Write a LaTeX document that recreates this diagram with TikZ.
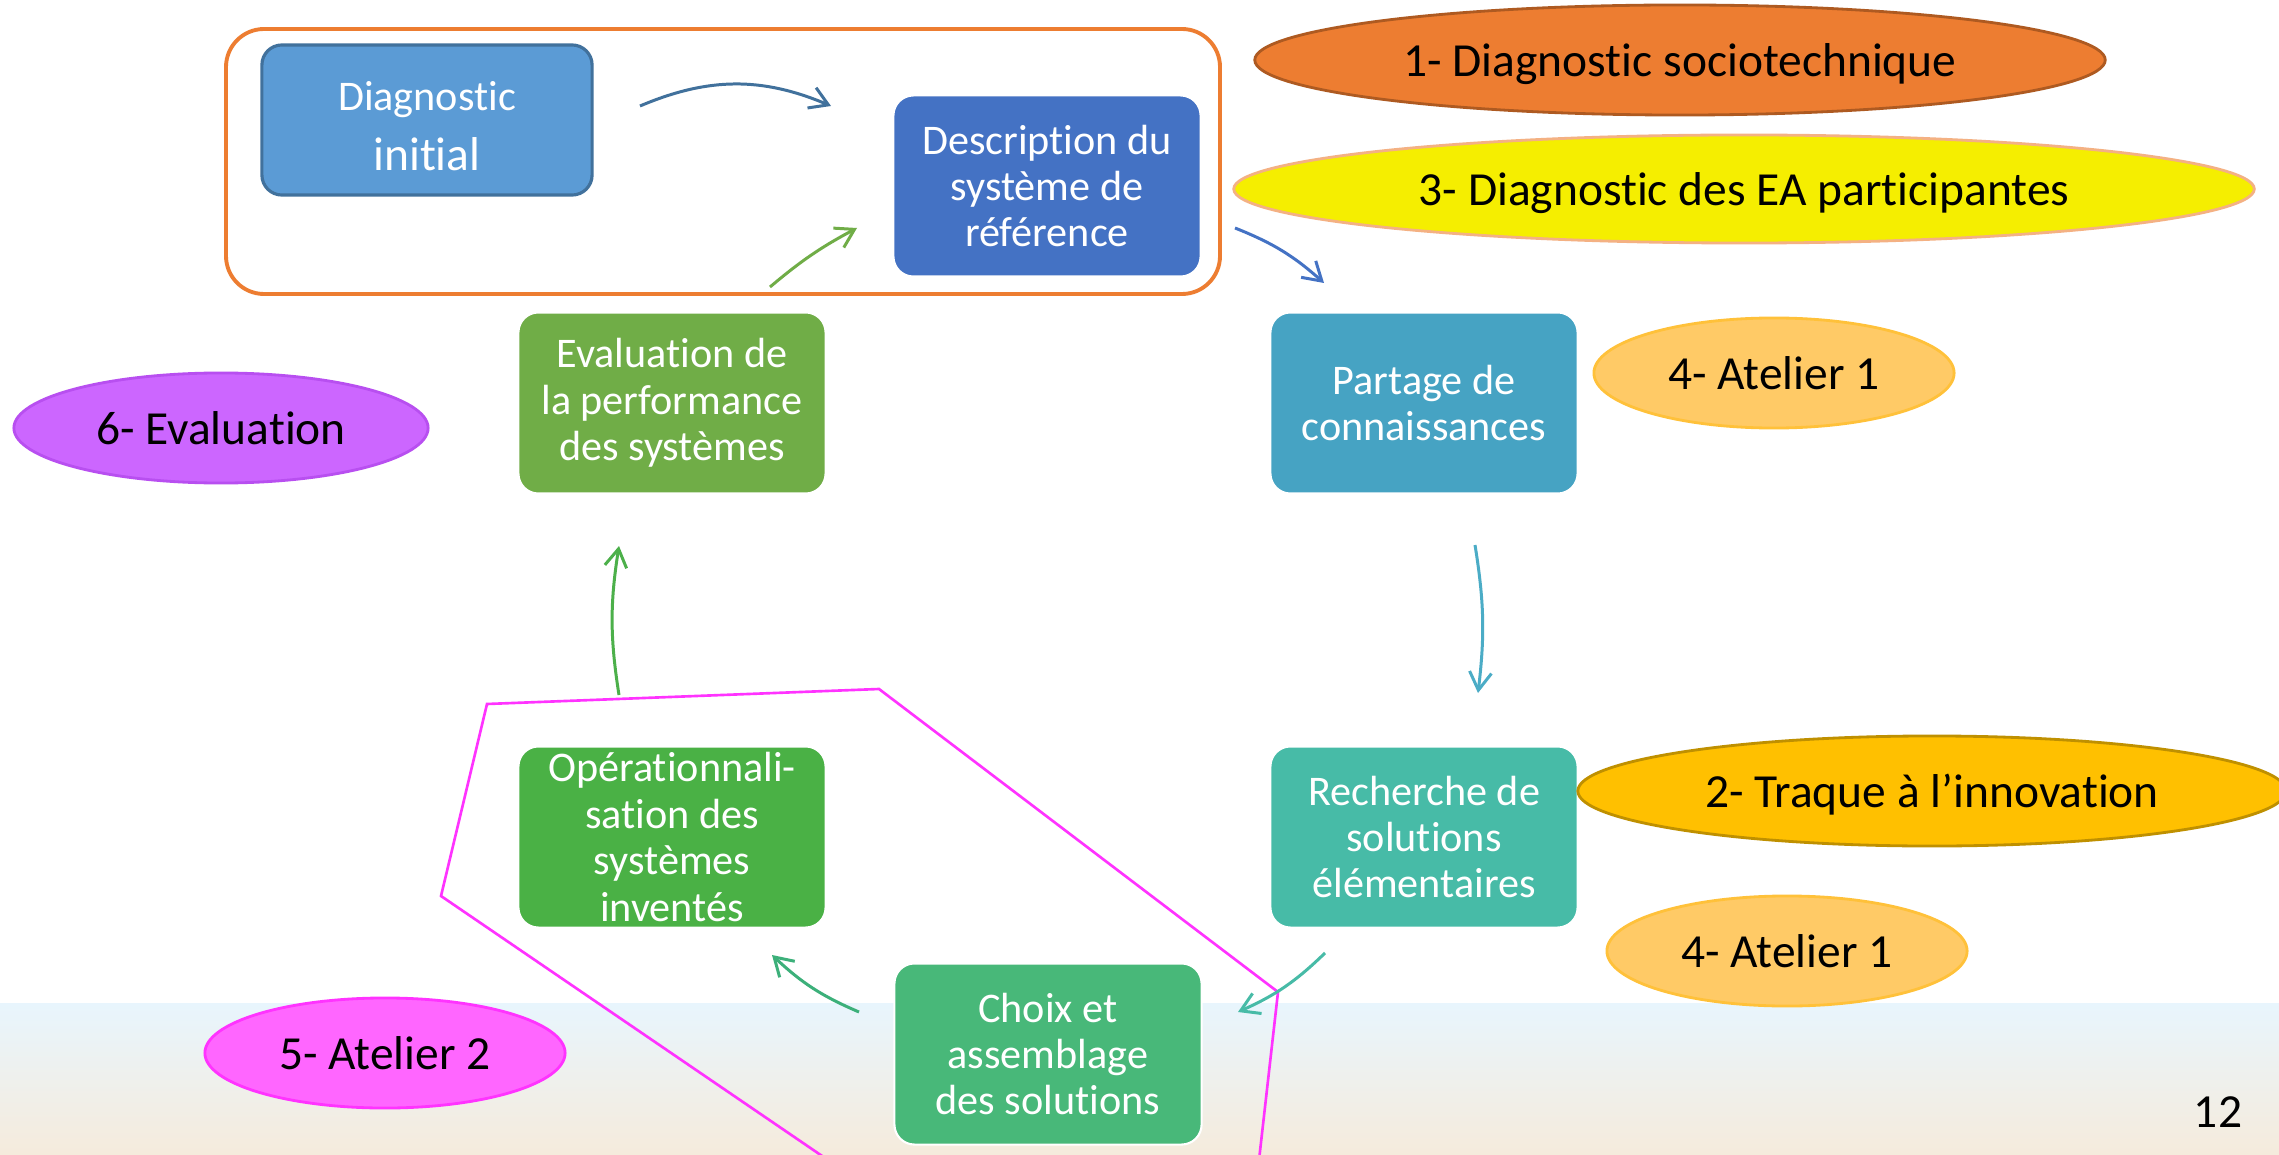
\documentclass[tikz,border=0pt]{standalone}
\usepackage{fontspec}
\setmainfont{Carlito}[Ligatures={NoCommon}, RawFeature={-liga;-dlig}]
\usetikzlibrary{shapes.geometric,arrows.meta,calc}
\definecolor{bandtop}{HTML}{E8F5FD}
\definecolor{bandmid}{HTML}{F8F8F8}
\definecolor{bandbot}{HTML}{F5EBDC}
\definecolor{cdiag}{HTML}{5B9BD5}
\definecolor{cdiagb}{HTML}{41719C}
\definecolor{cdesc}{HTML}{4472C4}
\definecolor{cpart}{HTML}{46A3C3}
\definecolor{ceval}{HTML}{70AD47}
\definecolor{crech}{HTML}{47BBA7}
\definecolor{coper}{HTML}{4AB145}
\definecolor{cchoix}{HTML}{48B879}
\definecolor{corange}{HTML}{ED7D31}
\definecolor{corangeb}{HTML}{AE5A21}
\definecolor{cyell}{HTML}{F5EE00}
\definecolor{cyellb}{HTML}{F4B183}
\definecolor{catel}{HTML}{FFCA66}
\definecolor{catelb}{HTML}{FFC13A}
\definecolor{ctraq}{HTML}{FFC000}
\definecolor{ctraqb}{HTML}{BF9000}
\definecolor{cviol}{HTML}{CC66FF}
\definecolor{cviolb}{HTML}{B84FF0}
\definecolor{cpink}{HTML}{FF66FF}
\definecolor{cpinkb}{HTML}{FF33FF}
\definecolor{cmag}{HTML}{FF33FF}
\definecolor{ca3}{HTML}{4BACC6}
\definecolor{ca5}{HTML}{3CB07A}
\definecolor{ca6}{HTML}{4CB04A}
\tikzset{
  box/.style={rectangle, rounded corners=0.2cm, draw=white, line width=0.6pt,
    minimum width=3.07cm, minimum height=1.81cm, inner sep=0pt, align=center,
    text=white, font=\fontsize{12}{13.2}\selectfont},
  oval/.style={ellipse, inner sep=0pt, line width=0.8pt, text=black,
    text depth=0pt, font=\fontsize{13.5}{15}\selectfont},
  conn/.style={line width=0.85pt, -{Straight Barb[length=1.8mm,width=2.2mm,line width=0.85pt]}},
}
\begin{document}
\begin{tikzpicture}[x=0.01cm,y=-0.01cm]
\useasboundingbox (0,0) rectangle (2279,1155);
\fill[white] (0,0) rectangle (2279,1155);
\shade[top color=bandtop, middle color=bandmid, bottom color=bandbot] (0,1003) rectangle (2279,1155);

% orange frame
\draw[corange, line width=1.1pt, rounded corners=0.38cm] (226,29) rectangle (1220,294);

% magenta polygon
\draw[cmag, line width=0.75pt] (828,1160) -- (441,896) -- (487,704) -- (879,689) -- (1278,992) -- (1259,1160);

% boxes
\node[box, fill=cdiag, draw=cdiagb, line width=0.9pt, minimum width=3.3cm, minimum height=1.5cm,
  label={[inner sep=0pt, align=center, text=white, yshift=-0.06cm]center:{\fontsize{12}{14.8}\selectfont Diagnostic}\\[5pt]{\fontsize{13.5}{14.8}\selectfont initial}}] (diag) at (427,120) {};
\node[box, fill=cdesc] (desc) at (1047,186) {Description du\\système de\\référence};
\node[box, fill=cpart] (part) at (1424,403) {Partage de\\connaissances};
\node[box, fill=ceval] (eval) at (672,403) {Evaluation de\\la performance\\des systèmes};
\node[box, fill=crech] (rech) at (1424,837) {Recherche de\\solutions\\élémentaires};
\node[box, fill=coper] (oper) at (672,837) {Opérationnali-\\sation des\\systèmes\\inventés};
\node[box, fill=cchoix] (choix) at (1048,1054) {Choix et\\assemblage\\des solutions};

% ellipses
\node[oval, fill=corange, draw=corangeb, minimum width=8.5cm, minimum height=1.1cm] (e1) at (1680,60) {1- Diagnostic sociotechnique};
\node[oval, fill=cyell, draw=cyellb, minimum width=10.2cm, minimum height=1.08cm] (e3) at (1744,189) {3- Diagnostic des EA participantes};
\node[oval, fill=catel, draw=catelb, minimum width=3.6cm, minimum height=1.1cm] (e4a) at (1774,373) {4- Atelier 1};
\node[oval, fill=ctraq, draw=ctraqb, minimum width=7.08cm, minimum height=1.1cm] (e2) at (1932,791) {2- Traque à l’innovation};
\node[oval, fill=catel, draw=catelb, minimum width=3.6cm, minimum height=1.1cm] (e4b) at (1787,951) {4- Atelier 1};
\node[oval, fill=cviol, draw=cviolb, minimum width=4.14cm, minimum height=1.1cm] (e6) at (221,428) {6- Evaluation};
\node[oval, fill=cpink, draw=cpinkb, minimum width=3.6cm, minimum height=1.1cm] (e5) at (385,1053) {5- Atelier 2};

% page number
\node[inner sep=0pt, font=\fontsize{13.5}{15}\selectfont] (pg) at (2218,1112) {12};

% connectors
\draw[conn, cdiagb] ($(diag)+(213,-14)$) to[bend left=23] ($(desc)+(-216,-80)$);
\draw[conn, cdesc] ($(desc)+(188,42)$) to[bend left=10] ($(part)+(-100,-120)$);
\draw[conn, ca3] ($(part)+(51,142)$) to[bend left=8] ($(rech)+(54,-144)$);
\draw[conn, crech] ($(rech)+(-99,116)$) to[bend left=10] ($(choix)+(190,-42)$);
\draw[conn, ca5] ($(choix)+(-189,-42)$) to[bend left=10] ($(oper)+(100,118)$);
\draw[conn, ca6] ($(oper)+(-53,-142)$) to[bend left=9] ($(eval)+(-53,143)$);
\draw[conn, ceval] ($(eval)+(98,-116)$) to[bend left=6] ($(desc)+(-190,42)$);
\end{tikzpicture}
\end{document}
